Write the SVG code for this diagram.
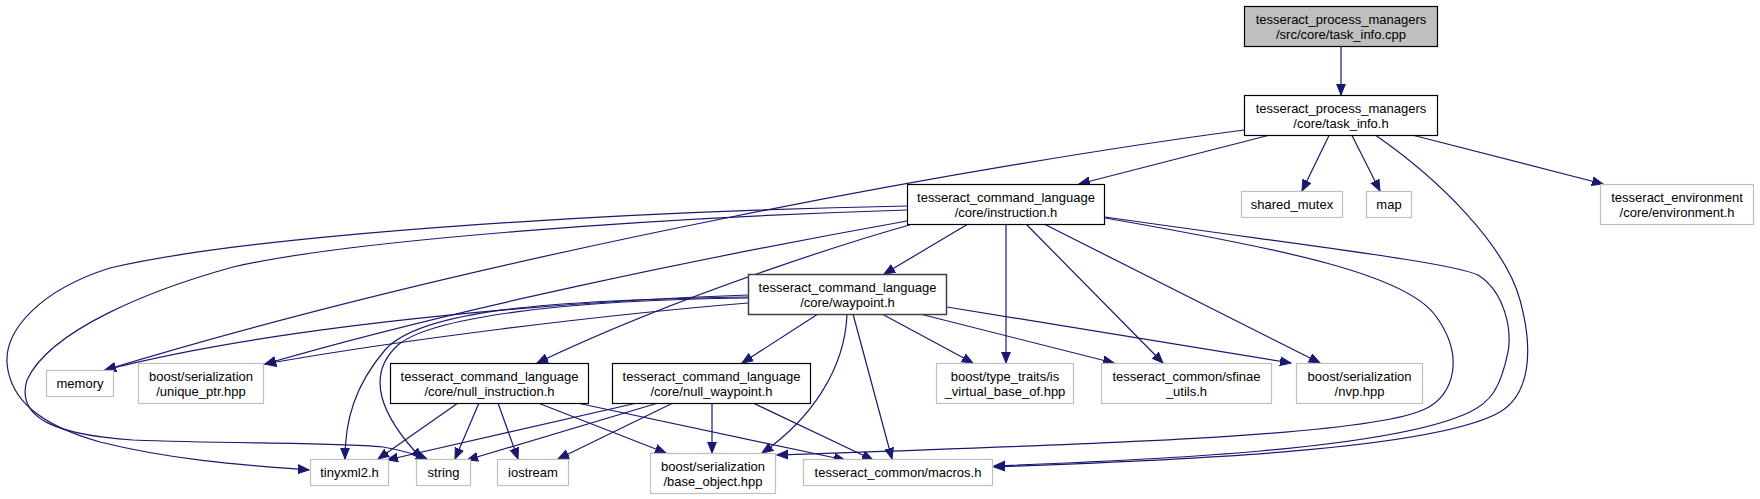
<svg xmlns="http://www.w3.org/2000/svg" width="1760" height="499" viewBox="0 0 1760 499">
<style>
.n rect{fill:#fff;stroke:#000;stroke-width:1.2}
.n.root rect{fill:#bfbfbf}
.n.wp rect{stroke:#404040;stroke-width:1.5}
.n.ext rect{stroke:#bfbfbf}
.n text{font-family:"Liberation Sans",Arial,sans-serif;font-size:13px;fill:#000;text-anchor:middle}
#edges path{fill:none;stroke:#191970;stroke-width:1.2;marker-end:url(#ah)}
</style>
<defs>
<marker id="ah" markerUnits="userSpaceOnUse" markerWidth="13" markerHeight="11" refX="11" refY="5" orient="auto">
<path d="M0,0.6 L11,5 L0,9.4 z" fill="#191970" stroke="#191970" stroke-width="1"/>
</marker>
</defs>
<rect width="1760" height="499" fill="#fff"/>
<g id="edges">
<path d="M1341,46 L1341,95"/>
<path d="M1268,135.5 L1079,184"/>
<path d="M1244,130 C1000,162 500,250 105,370"/>
<path d="M1329,135.5 L1302,191"/>
<path d="M1352,135.5 L1380,191"/>
<path d="M1414,135.5 L1603,184"/>
<path d="M1376,135.5 C1440,180 1505,245 1520,300 C1535,355 1528,395 1500,412 C1430,452 1150,461 994,467"/>
<path d="M1105,217 C1300,245 1450,262 1478,275 C1505,292 1512,330 1508,352 C1500,390 1490,402 1470,412 C1390,450 1150,460 994,466"/>
<path d="M1105,218 C1290,250 1405,275 1435,315 C1465,355 1455,395 1425,409 C1370,436 1100,444 777,455"/>
<path d="M968,224 L884,274"/>
<path d="M1006,224 L1006,363"/>
<path d="M1026,224 L1163,363"/>
<path d="M1044,224 L1320,363"/>
<path d="M913,224 C870,236 690,290 537,363"/>
<path d="M907,221 C700,258 450,310 265,364"/>
<path d="M907,206 C600,212 250,235 110,268 C40,290 5,330 7,363 C10,400 40,425 100,442 C180,462 260,466 309,470"/>
<path d="M907,210 C650,218 350,240 233,267 C150,290 50,330 27,380 C15,420 60,435 133,440 C230,444 330,442 383,447 C400,450 415,454 427,459"/>
<path d="M748,295 C600,300 300,320 105,370"/>
<path d="M748,303 C600,315 400,340 265,364"/>
<path d="M748,297 C550,300 420,310 385,350 C355,385 345,420 345,459"/>
<path d="M748,298 C560,300 430,318 398,345 C365,375 380,415 422,459"/>
<path d="M818,314 L742,363"/>
<path d="M847,314 C845,370 810,420 762,453"/>
<path d="M853,314 L892,459"/>
<path d="M882,314 L973,363"/>
<path d="M920,314 L1114,363"/>
<path d="M947,307 L1291,363"/>
<path d="M458,403 L378,459"/>
<path d="M479,403 L455,459"/>
<path d="M498,403 L518,459"/>
<path d="M538,403 L666,453"/>
<path d="M577,403 L845,460"/>
<path d="M637,403 L387,460"/>
<path d="M658,403 L467,460"/>
<path d="M673,403 L558,459"/>
<path d="M712,403 L712,453"/>
<path d="M753,403 L873,460"/>
</g>
<g id="node-root" class="n root"><rect x="1244.5" y="6.5" width="193" height="40"/><text x="1341" y="24">tesseract_process_managers</text><text x="1341" y="38.5">/src/core/task_info.cpp</text></g>
<g id="node-task_info" class="n"><rect x="1244.5" y="95.5" width="193" height="40"/><text x="1341" y="113">tesseract_process_managers</text><text x="1341" y="127.5">/core/task_info.h</text></g>
<g id="node-instruction" class="n"><rect x="907.5" y="184.5" width="197" height="40"/><text x="1006" y="202">tesseract_command_language</text><text x="1006" y="216.5">/core/instruction.h</text></g>
<g id="node-shared_mutex" class="n ext"><rect x="1241.5" y="191.5" width="101" height="26"/><text x="1292" y="209">shared_mutex</text></g>
<g id="node-map" class="n ext"><rect x="1366.5" y="191.5" width="45" height="26"/><text x="1389" y="209">map</text></g>
<g id="node-environment" class="n ext"><rect x="1600.5" y="184.5" width="153" height="40"/><text x="1677" y="202">tesseract_environment</text><text x="1677" y="216.5">/core/environment.h</text></g>
<g id="node-waypoint" class="n wp"><rect x="748.5" y="274.5" width="198" height="40"/><text x="847.5" y="292">tesseract_command_language</text><text x="847.5" y="306.5">/core/waypoint.h</text></g>
<g id="node-memory" class="n ext"><rect x="46.5" y="370.5" width="67" height="26"/><text x="80" y="388">memory</text></g>
<g id="node-unique_ptr" class="n ext"><rect x="138.5" y="363.5" width="125" height="40"/><text x="201" y="381">boost/serialization</text><text x="201" y="395.5">/unique_ptr.hpp</text></g>
<g id="node-null_instruction" class="n"><rect x="390.5" y="363.5" width="198" height="40"/><text x="489.5" y="381">tesseract_command_language</text><text x="489.5" y="395.5">/core/null_instruction.h</text></g>
<g id="node-null_waypoint" class="n"><rect x="612.5" y="363.5" width="198" height="40"/><text x="711.5" y="381">tesseract_command_language</text><text x="711.5" y="395.5">/core/null_waypoint.h</text></g>
<g id="node-is_virtual_base_of" class="n ext"><rect x="936.5" y="363.5" width="137" height="40"/><text x="1005" y="381">boost/type_traits/is</text><text x="1005" y="395.5">_virtual_base_of.hpp</text></g>
<g id="node-sfinae_utils" class="n ext"><rect x="1101.5" y="363.5" width="170" height="40"/><text x="1186.5" y="381">tesseract_common/sfinae</text><text x="1186.5" y="395.5">_utils.h</text></g>
<g id="node-nvp" class="n ext"><rect x="1296.5" y="363.5" width="126" height="40"/><text x="1359.5" y="381">boost/serialization</text><text x="1359.5" y="395.5">/nvp.hpp</text></g>
<g id="node-tinyxml2" class="n ext"><rect x="310.5" y="459.5" width="78" height="26"/><text x="349.5" y="477">tinyxml2.h</text></g>
<g id="node-string" class="n ext"><rect x="416.5" y="459.5" width="54" height="26"/><text x="443.5" y="477">string</text></g>
<g id="node-iostream" class="n ext"><rect x="497.5" y="459.5" width="71" height="26"/><text x="533" y="477">iostream</text></g>
<g id="node-base_object" class="n ext"><rect x="650.5" y="453.5" width="125" height="40"/><text x="713" y="471">boost/serialization</text><text x="713" y="485.5">/base_object.hpp</text></g>
<g id="node-macros" class="n ext"><rect x="803.5" y="459.5" width="189" height="26"/><text x="898" y="477">tesseract_common/macros.h</text></g>
</svg>
